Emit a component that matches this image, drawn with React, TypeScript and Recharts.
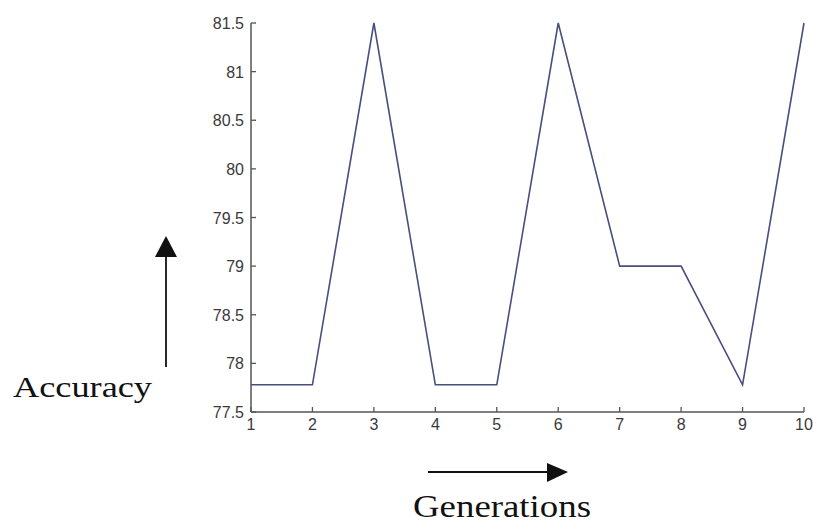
// Accuracy per generation — line chart with annotation arrows
import { LineChart, Line, XAxis, YAxis } from 'recharts'

const generations = [1, 2, 3, 4, 5, 6, 7, 8, 9, 10]
const accuracy = [77.78, 77.78, 81.5, 77.78, 77.78, 81.5, 79, 79, 77.78, 81.5]
const yTicks = [77.5, 78, 78.5, 79, 79.5, 80, 80.5, 81, 81.5]

const data = generations.map((g, i) => ({ gen: g, acc: accuracy[i] }))

const AXIS = '#555'
const LABEL = '#3a3a3a'
const tickFont = '"Liberation Sans", Arial, sans-serif'

function XTick(props: any) {
  const { x, y, payload } = props
  const axisY = y - 8
  return (
    <g>
      <line x1={x} x2={x} y1={axisY} y2={axisY - 5} stroke={AXIS} strokeWidth={1.3} />
      <text x={x} y={axisY + 18} textAnchor="middle" fontSize={16} fill={LABEL} fontFamily={tickFont}>
        {payload.value}
      </text>
    </g>
  )
}

function YTick(props: any) {
  const { x, y, payload } = props
  const axisX = x + 7
  return (
    <g>
      <line x1={axisX} x2={axisX + 5} y1={y} y2={y} stroke={AXIS} strokeWidth={1.3} />
      <text x={x} y={y} dy={6} textAnchor="end" fontSize={16} fill={LABEL} fontFamily={tickFont}>
        {payload.value}
      </text>
    </g>
  )
}

export default function App() {
  return (
    <div style={{ position: 'absolute', left: 0, top: 0, width: 813, height: 523, background: '#fff' }}>
      <LineChart
        width={813}
        height={523}
        data={data}
        margin={{ top: 23, right: 9, bottom: 81, left: 201 }}
      >
        <XAxis
          dataKey="gen"
          type="number"
          domain={[1, 10]}
          ticks={generations}
          height={30}
          tickLine={false}
          tickSize={0}
          tickMargin={8}
          axisLine={{ stroke: AXIS, strokeWidth: 1.5 }}
          tick={<XTick />}
          interval={0}
        />
        <YAxis
          type="number"
          domain={[77.5, 81.5]}
          ticks={yTicks}
          width={50}
          tickLine={false}
          tickSize={0}
          tickMargin={7}
          axisLine={{ stroke: AXIS, strokeWidth: 1.5 }}
          tick={<YTick />}
          interval={0}
        />
        <Line
          type="linear"
          dataKey="acc"
          stroke="#4a4e7e"
          strokeWidth={1.6}
          dot={false}
          activeDot={false}
          isAnimationActive={false}
        />
      </LineChart>
      <svg
        width={813}
        height={523}
        style={{ position: 'absolute', left: 0, top: 0, pointerEvents: 'none' }}
      >
        <line x1={166} x2={166} y1={367} y2={254} stroke="#111" strokeWidth={1.8} />
        <polygon points="166,236 155,257 177,257" fill="#111" />
        <text
          x={13}
          y={397}
          fontSize={30}
          fontFamily='"Liberation Serif", "Times New Roman", serif'
          fill="#111"
          textLength={139}
          lengthAdjust="spacingAndGlyphs"
        >
          Accuracy
        </text>
        <line x1={428} x2={550} y1={472} y2={472} stroke="#111" strokeWidth={1.8} />
        <polygon points="568,472 547,463 547,482" fill="#111" />
        <text
          x={413}
          y={517}
          fontSize={32}
          fontFamily='"Liberation Serif", "Times New Roman", serif'
          fill="#111"
          textLength={178}
          lengthAdjust="spacingAndGlyphs"
        >
          Generations
        </text>
      </svg>
    </div>
  )
}
